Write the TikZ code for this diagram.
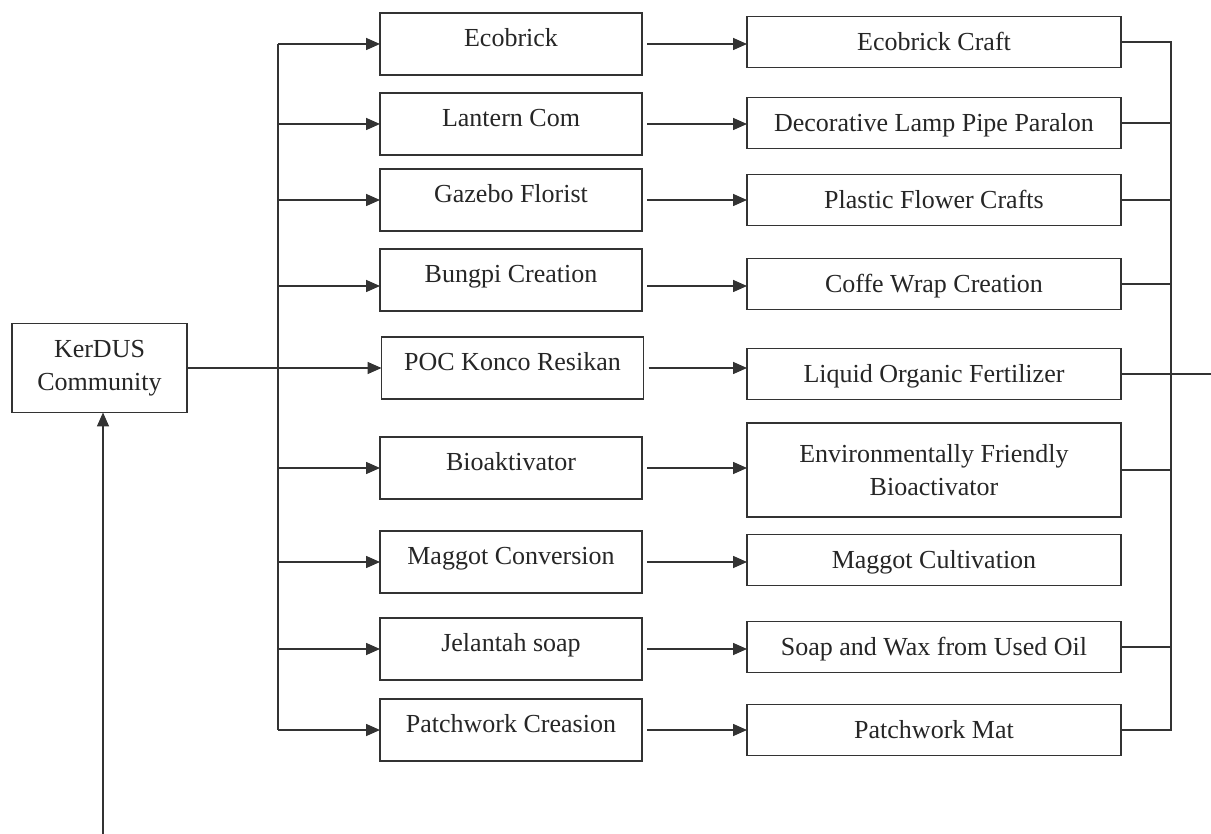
\documentclass[tikz,border=0pt]{standalone}
\usepackage{fontspec}
\setmainfont{Liberation Serif}
\usetikzlibrary{arrows.meta}
\begin{document}
\begin{tikzpicture}[x=1pt,y=-1pt,
  ln/.style={line width=1.6pt, draw=black!80},
  arr/.style={ln, -{Triangle[length=14pt,width=12pt]}},
  box/.style={ln, rectangle, inner sep=0pt, outer sep=0pt, font=\fontsize{26}{33}\selectfont, text=black!85, align=center},
  midbox/.style={box, minimum width=262pt, minimum height=62pt, text height=18pt, text depth=13pt},
  resbox/.style={box, minimum width=374pt, minimum height=51pt, text height=22pt, text depth=5pt},
]
\useasboundingbox (0,0) rectangle (1211,834);
\fill[white] (0,0) rectangle (1211,834);

\node[box, minimum width=175pt, minimum height=89pt] (k) at (99.5,368) {KerDUS\\Community};

\node[midbox] (m1) at (511,44) {Ecobrick};
\node[midbox] (m2) at (511,124) {Lantern Com};
\node[midbox] (m3) at (511,200) {Gazebo Florist};
\node[midbox] (m4) at (511,280) {Bungpi Creation};
\node[midbox] (m5) at (512.5,368) {POC Konco Resikan};
\node[midbox] (m6) at (511,468) {Bioaktivator};
\node[midbox] (m7) at (511,562) {Maggot Conversion};
\node[midbox] (m8) at (511,649) {Jelantah soap};
\node[midbox] (m9) at (511,730) {Patchwork Creasion};

\node[resbox] (r1) at (934,42) {Ecobrick Craft};
\node[resbox] (r2) at (934,123) {Decorative Lamp Pipe Paralon};
\node[resbox] (r3) at (934,200) {Plastic Flower Crafts};
\node[resbox] (r4) at (934,284) {Coffe Wrap Creation};
\node[resbox] (r5) at (934,374) {Liquid Organic Fertilizer};
\node[box, minimum width=374pt, minimum height=94pt] (r6) at (934,470) {Environmentally Friendly\\Bioactivator};
\node[resbox] (r7) at (934,560) {Maggot Cultivation};
\node[resbox] (r8) at (934,647) {Soap and Wax from Used Oil};
\node[resbox] (r9) at (934,730) {Patchwork Mat};

% left bus
\coordinate (lb) at (278,0);
\draw[ln] (lb |- m1.west) -- (lb |- m9.west);
\foreach \i in {1,2,3,6,7,8,9} {
  \draw[arr] (lb |- m\i.west) -- (m\i.west);
}
\coordinate (m4in) at ([yshift=-6pt]m4.west);
\draw[arr] (lb |- m4in) -- (m4in);
\draw[arr] (k.east) -- (m5.west |- k.east);

% middle to results
\foreach \i in {1,2,3,5,6,7,8,9} {
  \draw[arr, shorten <=5pt] (m\i.east) -- (r\i.west |- m\i.east);
}
\coordinate (m4out) at ([yshift=-6pt]m4.east);
\draw[arr, shorten <=5pt] (m4out) -- (r4.west |- m4out);

% right bus
\coordinate (rb) at (1171,0);
\draw[ln] (r1.east) -- (rb |- r1.east) -- (rb |- r9.east) -- (r9.east);
\foreach \i in {2,3,4,6,8} {
  \draw[ln] (r\i.east) -- (rb |- r\i.east);
}
\coordinate (out) at (1211,374);
\draw[ln] (r5.east) -- (out);

% feedback from below
\coordinate (src) at (103,834);
\draw[arr] (src) -- (k.south -| src);
\end{tikzpicture}
\end{document}
